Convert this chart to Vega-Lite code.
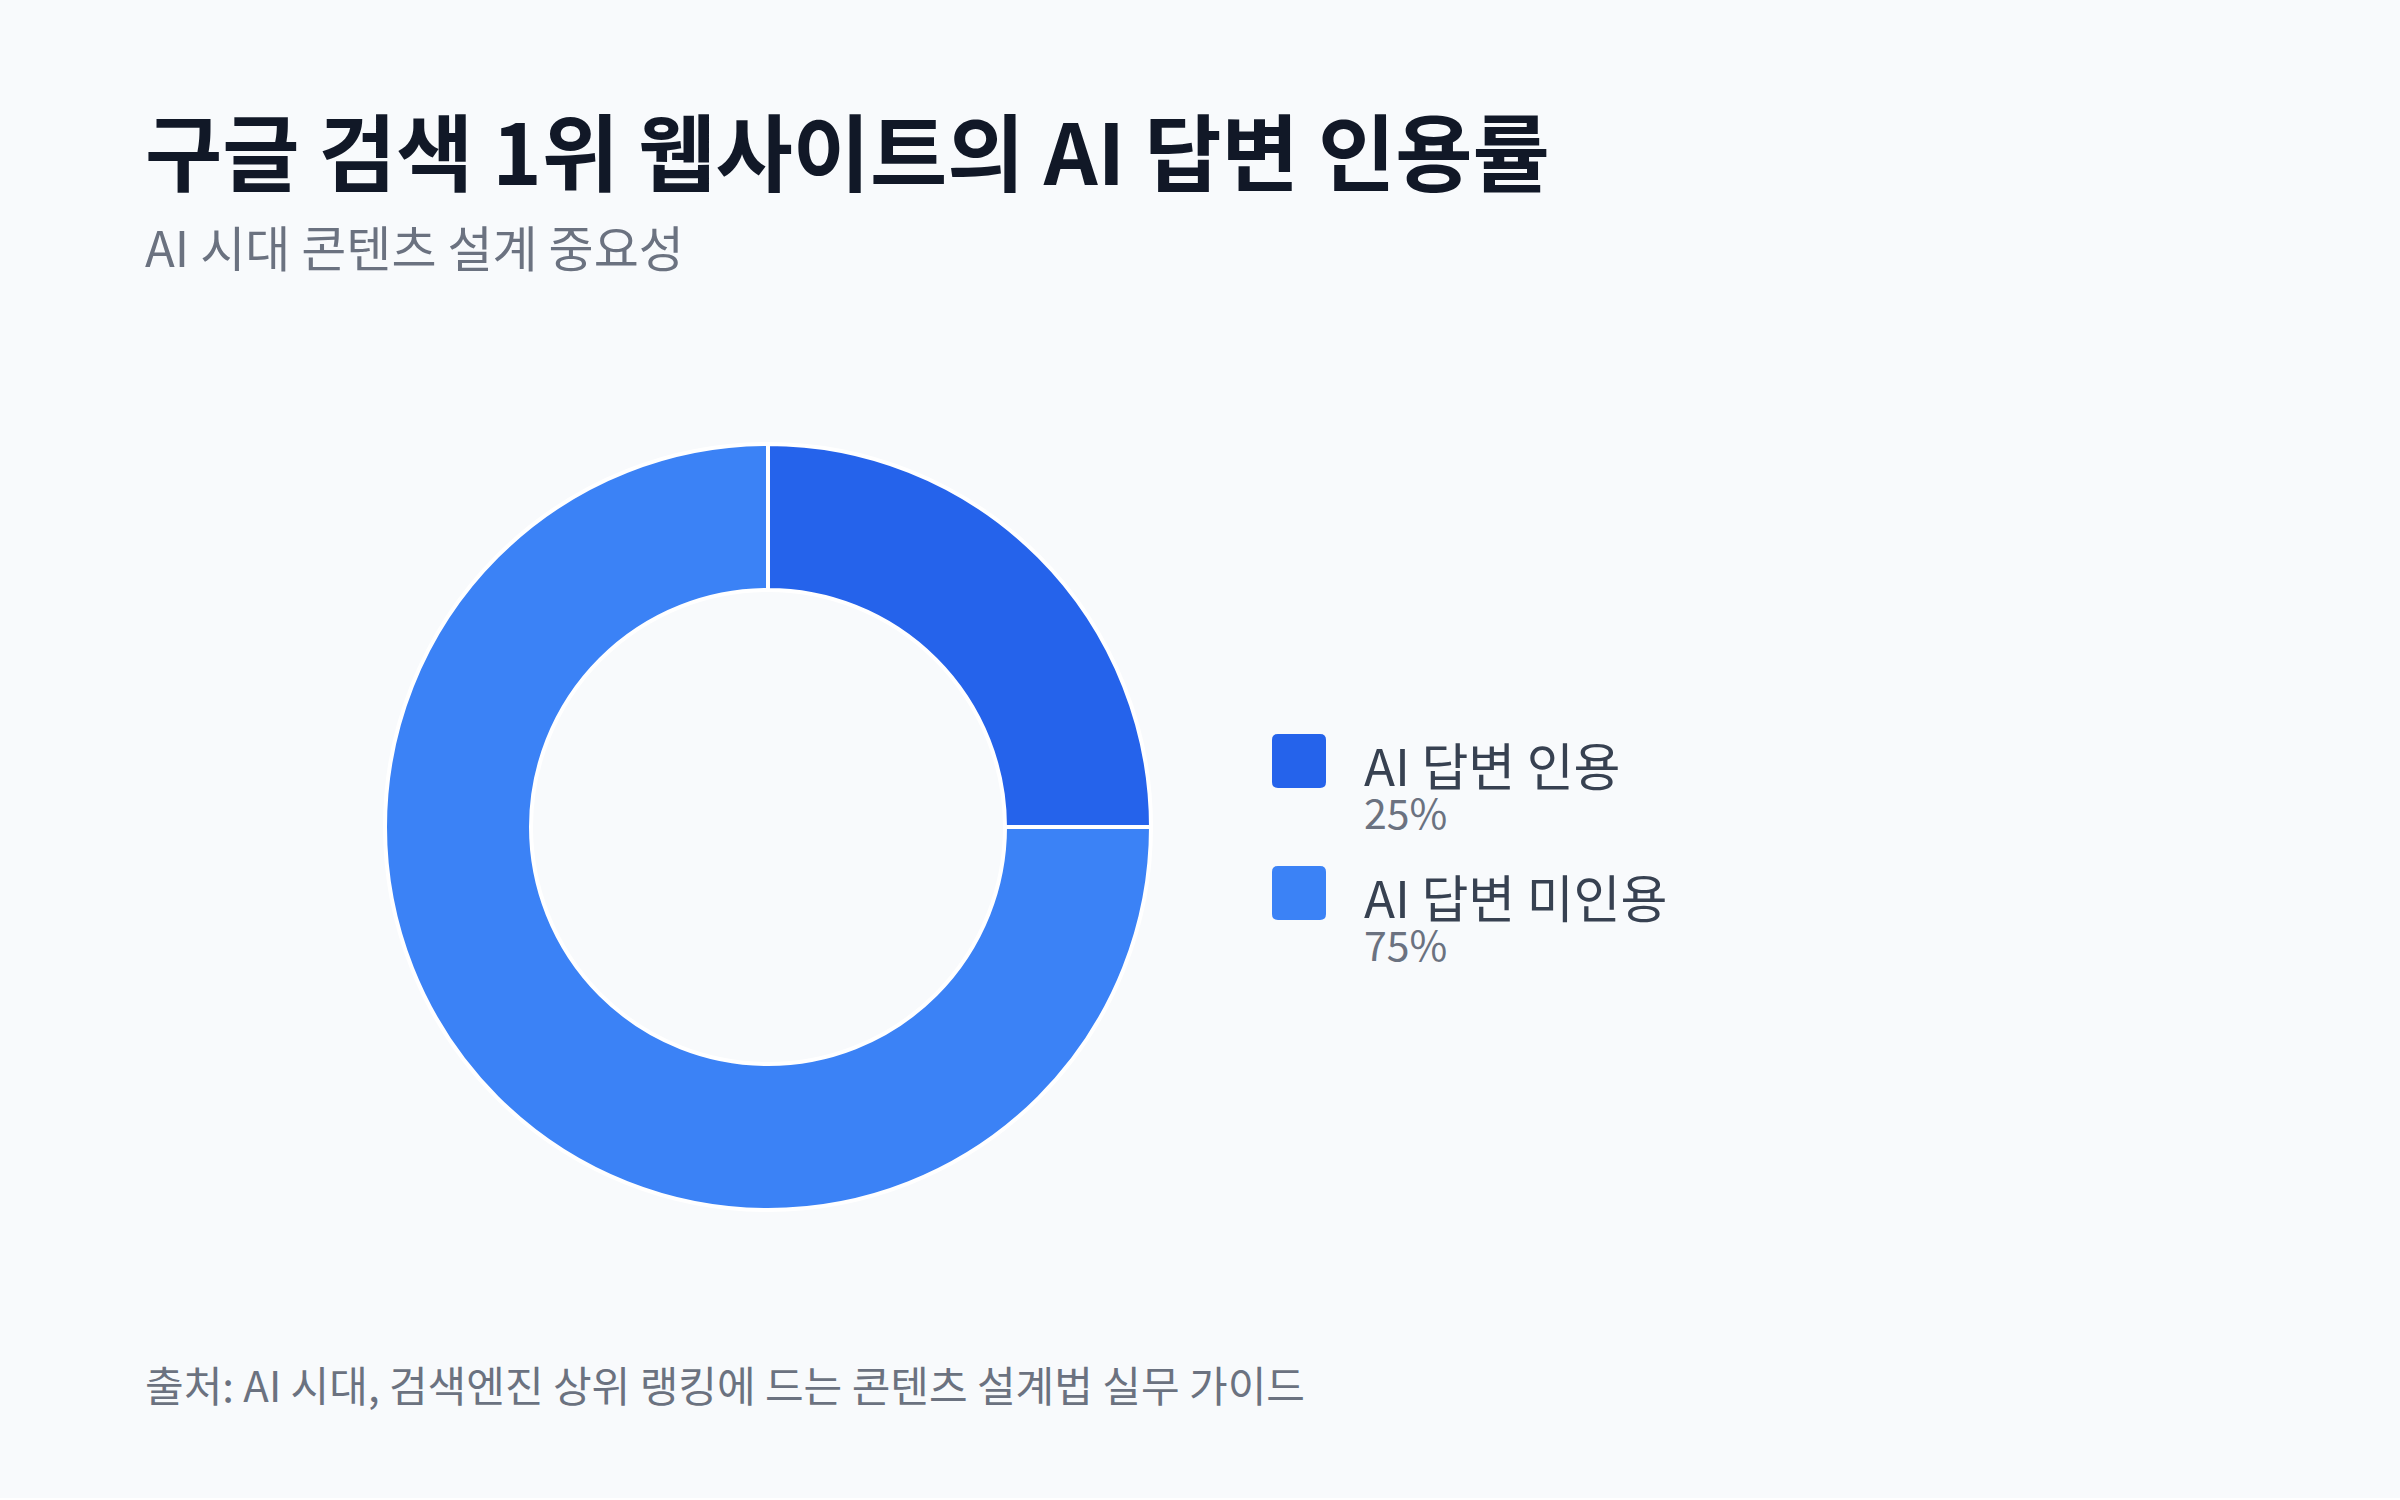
{
  "$schema": "https://vega.github.io/schema/vega-lite/v6.json",
  "background": "#f8fafc",
  "padding": {"left": 145, "top": 118, "right": 735, "bottom": 88},
  "title": {
    "text": "구글 검색 1위 웹사이트의 AI 답변 인용률",
    "subtitle": "AI 시대 콘텐츠 설계 중요성",
    "anchor": "start",
    "font": "Noto Sans CJK KR",
    "fontSize": 84,
    "fontWeight": "bold",
    "color": "#111827",
    "subtitleFont": "Noto Sans CJK KR",
    "subtitleFontSize": 49,
    "subtitleColor": "#6b7280",
    "subtitlePadding": 25,
    "offset": 149
  },
  "vconcat": [
    {
      "title": {
        "text": "출처: AI 시대, 검색엔진 상위 랭킹에 드는 콘텐츠 설계법 실무 가이드",
        "orient": "bottom",
        "anchor": "start",
        "font": "Noto Sans CJK KR",
        "fontSize": 42,
        "fontWeight": "normal",
        "color": "#6b7280",
        "offset": 142
      },
      "spacing": 20,
      "center": true,
      "bounds": "flush",
      "hconcat": [
        {
          "width": 220,
          "height": 800,
          "data": {"values": []},
          "mark": "text",
          "encoding": {}
        },
        {
          "width": 766,
          "height": 800,
          "data": {"name": "share"},
          "mark": {
            "type": "arc",
            "innerRadius": 237,
            "outerRadius": 383,
            "stroke": "#ffffff",
            "strokeWidth": 4
          },
          "encoding": {
            "theta": {"field": "value", "type": "quantitative", "stack": true},
            "order": {"field": "order", "type": "quantitative"},
            "color": {
              "field": "label",
              "type": "nominal",
              "scale": {
                "domain": ["AI 답변 인용", "AI 답변 미인용"],
                "range": ["#2563eb", "#3b82f6"]
              },
              "legend": null
            }
          }
        },
        {
          "width": 256,
          "height": 264,
          "data": {"name": "share"},
          "encoding": {
            "y": {
              "field": "label",
              "type": "nominal",
              "sort": null,
              "scale": {"type": "point", "padding": 0.5},
              "axis": null
            }
          },
          "layer": [
            {
              "mark": {
                "type": "point",
                "shape": "M-0.78,-1 L0.78,-1 Q1,-1 1,-0.78 L1,0.78 Q1,1 0.78,1 L-0.78,1 Q-1,1 -1,0.78 L-1,-0.78 Q-1,-1 -0.78,-1 Z",
                "size": 2916,
                "filled": true,
                "opacity": 1
              },
              "encoding": {
                "color": {
                  "field": "label",
                  "type": "nominal",
                  "scale": {
                    "domain": ["AI 답변 인용", "AI 답변 미인용"],
                    "range": ["#2563eb", "#3b82f6"]
                  },
                  "legend": null
                }
              }
            },
            {
              "mark": {
                "type": "text",
                "align": "left",
                "baseline": "alphabetic",
                "dx": 65,
                "dy": 25,
                "font": "Noto Sans CJK KR",
                "fontSize": 51,
                "color": "#374151"
              },
              "encoding": {"text": {"field": "label"}}
            },
            {
              "mark": {
                "type": "text",
                "align": "left",
                "baseline": "alphabetic",
                "dx": 65,
                "dy": 68,
                "font": "Noto Sans CJK KR",
                "fontSize": 41,
                "color": "#6b7280"
              },
              "encoding": {"text": {"field": "pct"}}
            }
          ]
        }
      ]
    }
  ],
  "datasets": {
    "share": [
      {"label": "AI 답변 인용", "value": 25, "pct": "25%", "order": 1},
      {"label": "AI 답변 미인용", "value": 75, "pct": "75%", "order": 2}
    ]
  },
  "config": {
    "view": {"stroke": null},
    "font": "Noto Sans CJK KR"
  }
}
